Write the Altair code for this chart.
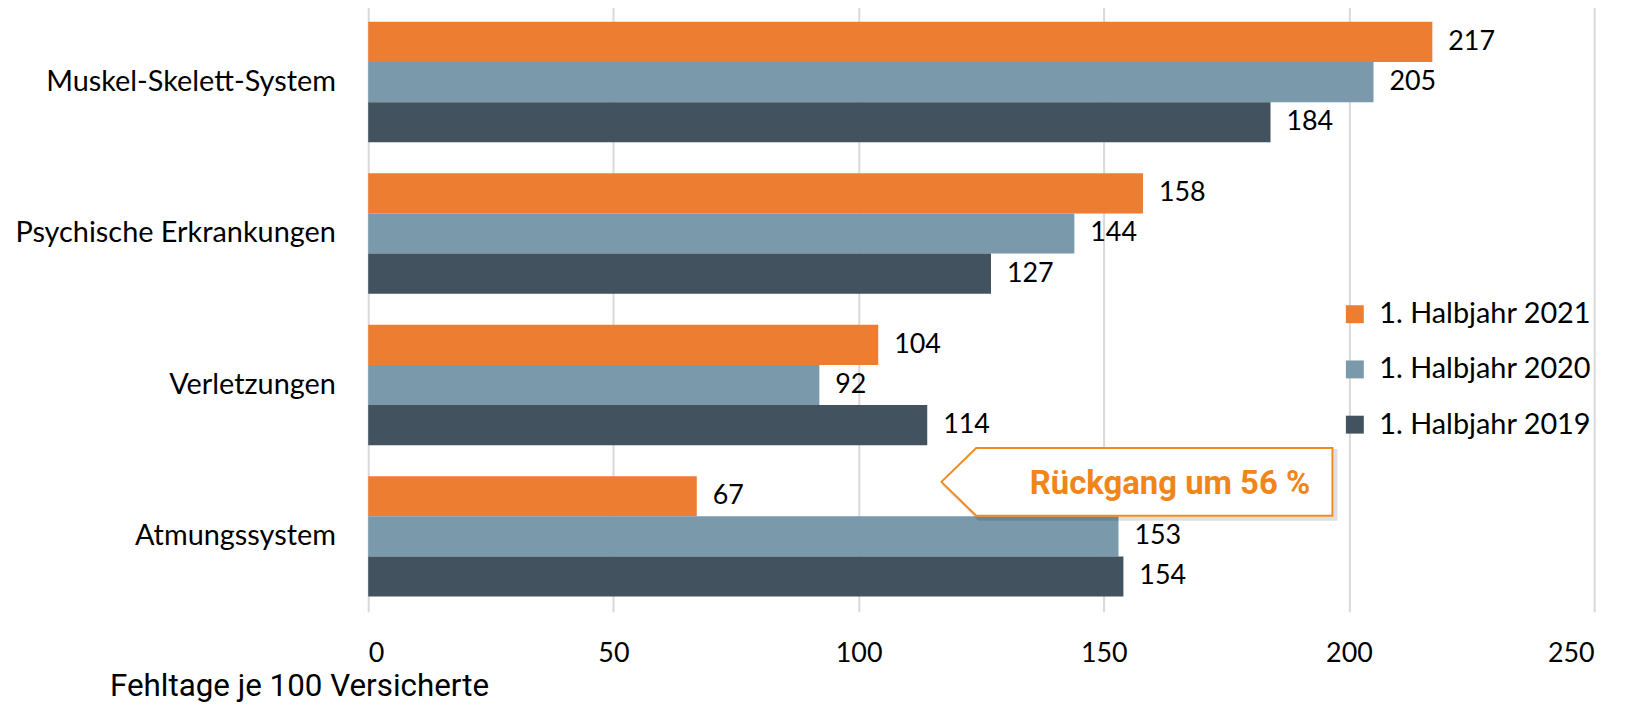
import altair as alt
import pandas as pd

categories = ["Muskel-Skelett-System", "Psychische Erkrankungen", "Verletzungen", "Atmungssystem"]
series = ["1. Halbjahr 2021", "1. Halbjahr 2020", "1. Halbjahr 2019"]
values_2021 = [217, 158, 104, 67]
values_2020 = [205, 144, 92, 153]
values_2019 = [184, 127, 114, 154]
colors = ["#ED7D31", "#7A99AB", "#42525E"]
x_ticks = [0, 50, 100, 150, 200, 250]
axis_title = "Fehltage je 100 Versicherte"

callout_text = "Rückgang um 56 %"
callout_category = "Atmungssystem"
callout_box_x = 157.0
callout_text_x = 163.5

rows = []
for s, vals in zip(series, [values_2021, values_2020, values_2019]):
    for c, v in zip(categories, vals):
        rows.append({"Kategorie": c, "Serie": s, "Wert": v})
df = pd.DataFrame(rows)

df_box = pd.DataFrame({"Kategorie": [callout_category], "Wert": [callout_box_x]})
df_label = pd.DataFrame({"Kategorie": [callout_category], "Wert": [callout_text_x], "label": [callout_text]})

LABEL_FONT = "Lato"
FS = 27
FS_CAT = 29

x_enc = alt.X(
    "Wert:Q",
    scale=alt.Scale(domain=[0, 250]),
    axis=alt.Axis(
        values=x_ticks, grid=True, gridColor="#d9d9d9", gridWidth=2,
        ticks=False, domain=False,
        labelFont=LABEL_FONT, labelFontSize=FS, labelColor="black", labelPadding=29,
        title=axis_title, titleFont="Roboto", titleFontSize=31.5,
        titleFontWeight="normal", titleColor="black",
        titleX=-260, titleY=84, titleAlign="left", titleBaseline="alphabetic",
    ),
)
y_enc = alt.Y(
    "Kategorie:N",
    sort=categories,
    scale=alt.Scale(paddingInner=0.205, paddingOuter=0.1),
    axis=alt.Axis(
        title=None, labelFont=LABEL_FONT, labelFontSize=FS_CAT, labelColor="black",
        labelPadding=33, ticks=False, domain=False, grid=False, labelLimit=400,
    ),
)
yoff_enc = alt.YOffset("Serie:N", sort=series, scale=alt.Scale(domain=series))

bars = alt.Chart(df).mark_bar().encode(
    x=x_enc,
    y=y_enc,
    yOffset=yoff_enc,
    color=alt.Color(
        "Serie:N",
        scale=alt.Scale(domain=series, range=colors),
        legend=alt.Legend(
            title=None, orient="none", legendX=977, legendY=294.5,
            symbolType="square", symbolSize=324, symbolStrokeWidth=0, symbolOpacity=1,
            labelFont=LABEL_FONT, labelFontSize=FS_CAT, labelColor="black",
            labelOffset=10, rowPadding=25.5, padding=0, labelLimit=400,
        ),
    ),
)

values_text = alt.Chart(df).mark_text(
    align="left", baseline="middle", dx=16, font=LABEL_FONT, fontSize=FS, color="black"
).encode(x=x_enc, y=y_enc, yOffset=yoff_enc, text=alt.Text("Wert:Q"))

box_path = "M -0.9885 -0.274 L -0.8135 -0.444 L 0.9765 -0.444 L 0.9765 -0.104 L -0.8135 -0.104 Z"
shadow_path = "M -0.9735 -0.259 L -0.7985 -0.429 L 0.9915 -0.429 L 0.9915 -0.089 L -0.7985 -0.089 Z"

shadow = alt.Chart(df_box).mark_point(
    shape=shadow_path, size=160000, filled=False, stroke="#000000",
    strokeOpacity=0.12, strokeWidth=4, opacity=1,
).encode(x=x_enc, y=y_enc)

box = alt.Chart(df_box).mark_point(
    shape=box_path, size=160000, filled=True, fill="white", fillOpacity=1,
    stroke="#F08A1E", strokeWidth=2, opacity=1,
).encode(x=x_enc, y=y_enc)

box_text = alt.Chart(df_label).mark_text(
    font="Roboto", fontSize=33, fontWeight="bold", color="#F08519",
    align="center", baseline="middle", dy=-52.8,
).encode(x=x_enc, y=y_enc, text="label:N")

chart = alt.layer(bars, values_text, shadow, box, box_text).properties(
    width=1232,
    height=608,
    padding={"left": 362, "top": -3, "right": 33, "bottom": 90},
    autosize=alt.AutoSizeParams(type="none"),
    background="white",
).configure_view(stroke=None)

chart.save("out.html", embed_options={"renderer": "svg", "actions": False})
